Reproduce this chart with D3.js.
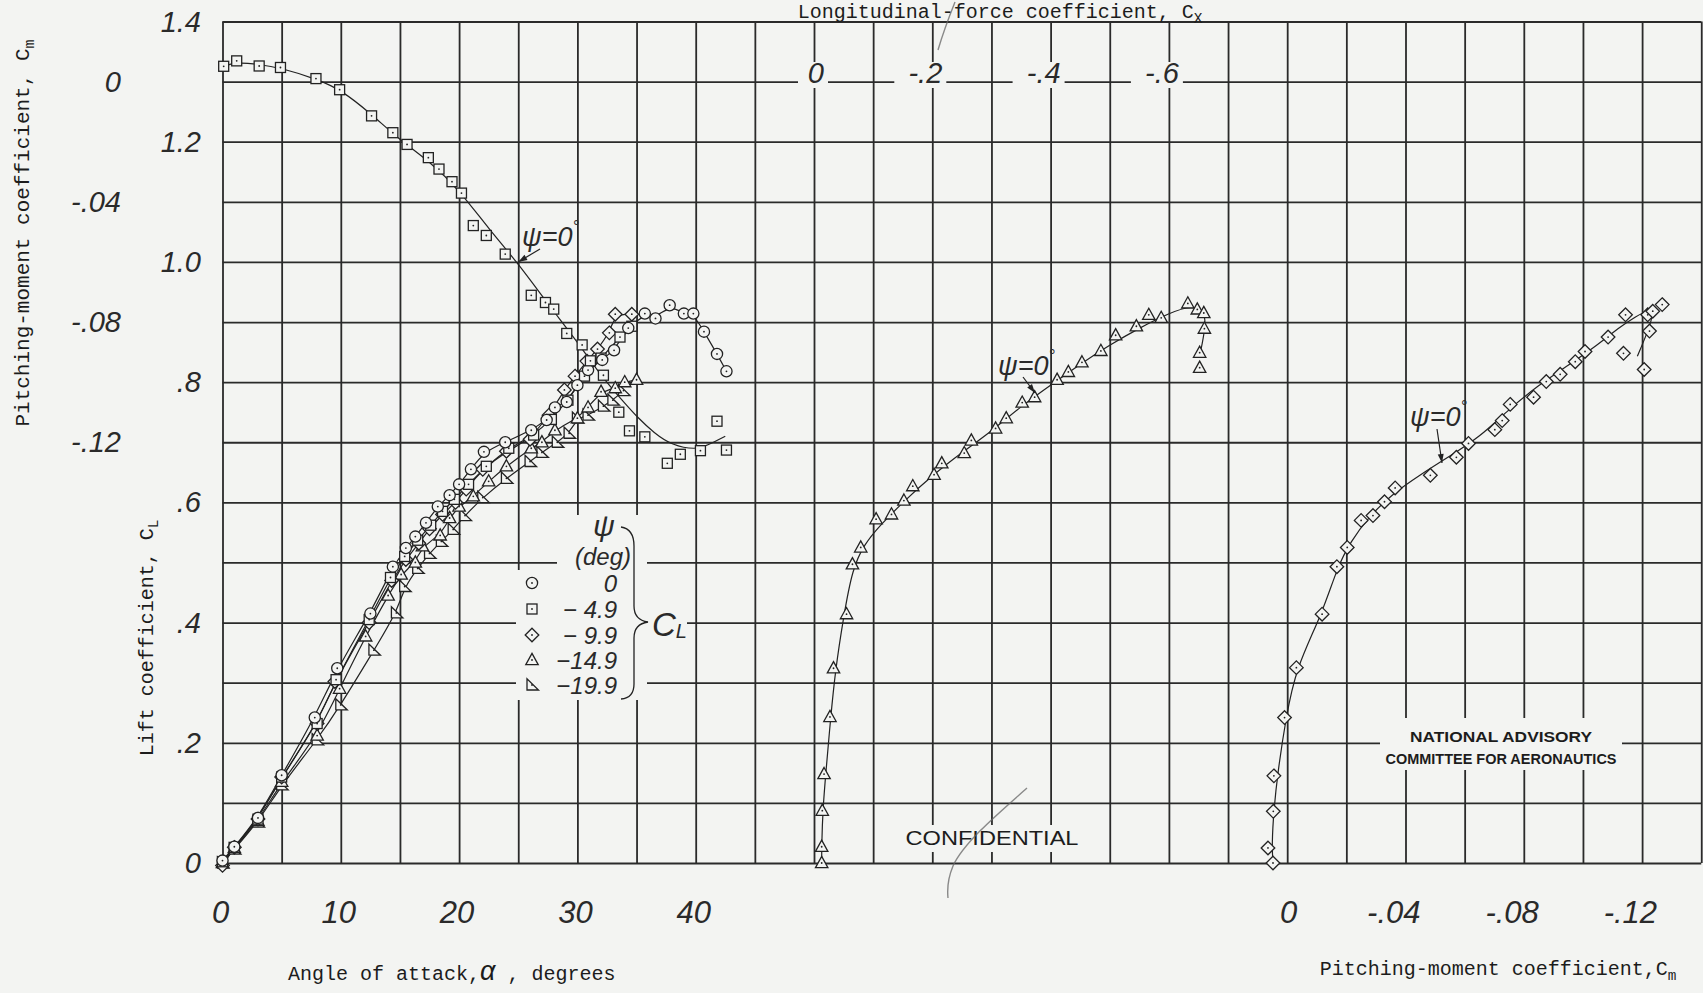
<!DOCTYPE html>
<html><head><meta charset="utf-8">
<script src="https://cdn.jsdelivr.net/npm/d3@7"></script>
<style>
html,body{margin:0;padding:0;background:#f3f4f2;}
svg{display:block;}
</style></head><body>
<svg id="chart" width="1703" height="993"></svg>
<script>
// ---------------- DATA ----------------
const alphaTicks = [0, 10, 20, 30, 40];
const alphaTickLabels = ['0', '10', '20', '30', '40'];
const clTicks = [0, 0.2, 0.4, 0.6, 0.8, 1.0, 1.2, 1.4];
const clTickLabels = ['0', '.2', '.4', '.6', '.8', '1.0', '1.2', '1.4'];
const cmLeftTicks = [0, -0.04, -0.08, -0.12];
const cmLeftTickLabels = ['0', '-.04', '-.08', '-.12'];
const cxTicks = [0, -0.2, -0.4, -0.6];
const cxTickLabels = ['0', '-.2', '-.4', '-.6'];
const cmTicks = [0, -0.04, -0.08, -0.12];
const cmTickLabels = ['0', '-.04', '-.08', '-.12'];

const psiLabels = ['0', '\u2212 4.9', '\u2212 9.9', '\u221214.9', '\u221219.9'];
const psiSymbols = ['circle', 'square', 'diamond', 'triangle', 'flag'];

// CL vs alpha, psi = 0 (circles)
const alphaPsi0 = [0, 1, 3, 5, 7.8, 9.7, 12.5, 14.4, 15.5, 16.3, 17.2, 18.2, 19.2, 20.0, 21.0, 22.1, 23.9, 26.1, 27.4, 28.1, 29.1, 30.0, 30.9, 32.1, 33.1, 34.3, 35.7, 36.6, 37.8, 39.0, 39.8, 40.7, 41.8, 42.6];
const clPsi0    = [0.004, 0.027, 0.075, 0.146, 0.242, 0.324, 0.415, 0.493, 0.524, 0.543, 0.566, 0.593, 0.612, 0.630, 0.655, 0.684, 0.700, 0.720, 0.737, 0.758, 0.767, 0.795, 0.820, 0.837, 0.853, 0.890, 0.914, 0.906, 0.928, 0.914, 0.914, 0.884, 0.847, 0.818];
// psi = -4.9 (squares)
const alphaPsi49 = [0, 1, 3, 5, 8, 9.6, 12.4, 14.2, 15.4, 16.5, 17.6, 18.6, 19.6, 20.8, 22.3, 24.2, 26.3, 27.8, 29.2, 30.6, 32.0, 33.6, 34.6];
const clPsi49    = [0.002, 0.026, 0.073, 0.143, 0.232, 0.305, 0.405, 0.475, 0.510, 0.537, 0.562, 0.585, 0.605, 0.630, 0.660, 0.690, 0.712, 0.738, 0.770, 0.810, 0.840, 0.875, 0.893];
// psi = -9.9 (diamonds)
const alphaPsi99 = [0, 1, 3, 5, 8, 9.5, 12.4, 14.3, 15.5, 16.6, 17.5, 18.6, 19.7, 20.6, 22.0, 24.0, 26.0, 27.6, 28.9, 29.8, 30.8, 31.7, 32.7, 33.2, 34.6];
const clPsi99    = [-0.004, 0.026, 0.073, 0.143, 0.232, 0.302, 0.400, 0.470, 0.505, 0.532, 0.556, 0.580, 0.600, 0.622, 0.655, 0.685, 0.705, 0.745, 0.787, 0.810, 0.835, 0.855, 0.882, 0.913, 0.913];
// psi = -14.9 (triangles)
const alphaPsi149 = [0, 1, 3, 5, 8, 9.9, 12.1, 14.0, 15.1, 16.3, 16.9, 18.4, 19.2, 20.0, 21.2, 22.5, 24.0, 26.1, 27.0, 28.1, 30.0, 30.9, 32.0, 33.2, 34.0, 35.0];
const clPsi149    = [0.0, 0.025, 0.070, 0.135, 0.212, 0.290, 0.377, 0.445, 0.480, 0.500, 0.527, 0.545, 0.574, 0.593, 0.610, 0.635, 0.660, 0.690, 0.700, 0.720, 0.740, 0.758, 0.784, 0.790, 0.800, 0.804];
// psi = -19.9 (flagged triangles)
const alphaPsi199 = [0, 1, 3, 5, 8, 10, 12.8, 14.7, 15.4, 16.5, 17.5, 18.5, 19.5, 20.5, 22.0, 24.0, 26.0, 27.0, 28.3, 29.3, 30.0, 30.9, 32.2, 33.0, 33.9];
const clPsi199    = [0.0, 0.023, 0.068, 0.130, 0.205, 0.263, 0.354, 0.416, 0.460, 0.490, 0.515, 0.535, 0.555, 0.578, 0.608, 0.640, 0.668, 0.683, 0.700, 0.715, 0.740, 0.745, 0.760, 0.770, 0.786];

// Cm vs alpha, psi = 0 (squares), measured points
const alphaCm = [0.1, 1.2, 3.1, 4.9, 7.9, 9.9, 12.6, 14.4, 15.6, 17.4, 18.3, 19.4, 20.2, 21.2, 22.3, 23.9, 26.1, 27.3, 28.0, 29.1, 30.4, 31.1, 32.2, 33.5, 34.4, 35.7, 37.6, 38.7, 40.4, 41.8, 42.6];
const cmAlpha = [0.0051, 0.0069, 0.0052, 0.0047, 0.0010, -0.0027, -0.0114, -0.0170, -0.0209, -0.0253, -0.0291, -0.0333, -0.0371, -0.0479, -0.0512, -0.0574, -0.0711, -0.0735, -0.0757, -0.0838, -0.0876, -0.0929, -0.0977, -0.1100, -0.1162, -0.1182, -0.1270, -0.1240, -0.1228, -0.1130, -0.1226];
// faired curve
const alphaCmFair = [0, 1.2, 3, 5, 8, 10, 12.5, 15, 17.5, 20, 22.5, 25, 27.5, 30, 32, 34, 35, 36.5, 38, 40, 41, 42.5];
const cmAlphaFair = [0.0050, 0.0065, 0.0058, 0.0045, 0.0008, -0.0027, -0.0105, -0.0195, -0.0265, -0.0360, -0.0490, -0.0605, -0.0740, -0.0865, -0.0980, -0.1070, -0.1114, -0.1170, -0.1210, -0.1225, -0.1210, -0.1180];

// CL vs Cx, psi = 0 (triangles)
const cxData  = [-0.013, -0.013, -0.014, -0.017, -0.027, -0.033, -0.055, -0.065, -0.079, -0.105, -0.131, -0.152, -0.167, -0.203, -0.216, -0.254, -0.266, -0.307, -0.325, -0.352, -0.373, -0.411, -0.430, -0.453, -0.485, -0.510, -0.545, -0.566, -0.587, -0.632, -0.648, -0.659, -0.660, -0.652, -0.652];
const clCx    = [0.0, 0.027, 0.087, 0.148, 0.243, 0.324, 0.414, 0.497, 0.525, 0.572, 0.580, 0.603, 0.627, 0.646, 0.665, 0.682, 0.703, 0.723, 0.740, 0.766, 0.775, 0.804, 0.817, 0.833, 0.852, 0.878, 0.893, 0.912, 0.907, 0.931, 0.921, 0.915, 0.889, 0.849, 0.824];
const cxFair  = [-0.013, -0.013, -0.015, -0.020, -0.028, -0.036, -0.050, -0.065, -0.085, -0.110, -0.150, -0.200, -0.250, -0.300, -0.350, -0.400, -0.450, -0.500, -0.550, -0.600, -0.640, -0.660, -0.662, -0.656, -0.652];
const clCxFair= [0.0, 0.030, 0.090, 0.150, 0.240, 0.320, 0.410, 0.490, 0.530, 0.560, 0.600, 0.645, 0.683, 0.718, 0.760, 0.795, 0.830, 0.862, 0.890, 0.915, 0.928, 0.918, 0.895, 0.862, 0.845];

// CL vs Cm, psi = 0 (diamonds)
const cmData = [0.0048, 0.0065, 0.0047, 0.0045, 0.0009, -0.0031, -0.0118, -0.0168, -0.0203, -0.0250, -0.0290, -0.0329, -0.0365, -0.0484, -0.0572, -0.0613, -0.0702, -0.0727, -0.0754, -0.0833, -0.0876, -0.0923, -0.0974, -0.1007, -0.1085, -0.1144, -0.1219, -0.1236, -0.1268, -0.1225, -0.1137, -0.1207];
const clCm   = [0.0, 0.025, 0.086, 0.145, 0.242, 0.325, 0.414, 0.493, 0.525, 0.570, 0.578, 0.601, 0.624, 0.645, 0.675, 0.698, 0.721, 0.736, 0.763, 0.775, 0.801, 0.813, 0.834, 0.851, 0.875, 0.912, 0.912, 0.918, 0.929, 0.885, 0.848, 0.821];
const cmFair = [0.0048, 0.0052, 0.0045, 0.0032, 0.0005, -0.0030, -0.0118, -0.0170, -0.0215, -0.0275, -0.0350, -0.0450, -0.0550, -0.0650, -0.0750, -0.0850, -0.0950, -0.1050, -0.1120, -0.1180, -0.1226, -0.1237, -0.1220, -0.1184];
const clCmFair=[0.0, 0.030, 0.090, 0.150, 0.240, 0.325, 0.414, 0.493, 0.535, 0.575, 0.612, 0.646, 0.677, 0.708, 0.755, 0.795, 0.828, 0.862, 0.890, 0.910, 0.921, 0.911, 0.885, 0.843];

// ---------------- LAYOUT ----------------
const W = 1703, H = 993;
const X0 = 222.5, DX = 59.15, NCOL = 25, YTOP = 21.5, YBOT = 863;
const bg = '#f3f4f2', ink = '#222', gridColor = '#2a2a2a';
const handFont = '"Liberation Sans", Arial, sans-serif';
const typeFont = '"Courier New", "Liberation Mono", monospace';

const colX = d3.scaleLinear().domain([0, NCOL]).range([X0, X0 + NCOL * DX]);
const yCL = d3.scaleLinear().domain([0, 1.4]).range([YBOT, YTOP]);
const xAlpha = d3.scaleLinear().domain([0, 5]).range([colX(0), colX(1)]);
const xCx = d3.scaleLinear().domain([0, -0.1]).range([colX(10), colX(11)]);
const xCm = d3.scaleLinear().domain([0, -0.02]).range([colX(18), colX(19)]);
const yCm = d3.scaleLinear().domain([0, -0.02]).range([yCL(1.3), yCL(1.2)]);

const svg = d3.select('#chart');
svg.append('rect').attr('width', W).attr('height', H).attr('fill', bg);

// ---------------- GRID (via axes) ----------------
const gV = svg.append('g').attr('transform', `translate(0,${YTOP})`)
  .call(d3.axisBottom(colX).tickValues(d3.range(0, NCOL + 1)).tickSize(YBOT - YTOP).tickFormat(''));
gV.select('.domain').remove();
gV.selectAll('line').attr('stroke', gridColor).attr('stroke-width', 1.8);

const gH = svg.append('g').attr('transform', `translate(${X0},0)`)
  .call(d3.axisRight(yCL).tickValues(d3.range(0, 15).map(i => i / 10)).tickSize(colX(NCOL) - X0).tickFormat(''));
gH.select('.domain').remove();
gH.selectAll('line').attr('stroke', gridColor).attr('stroke-width', 1.8);

// masks (blank areas behind lettering)
const maskG = svg.append('g');
function mask(x, y, w, h) { maskG.append('rect').attr('x', x).attr('y', y).attr('width', w).attr('height', h).attr('fill', bg); }
mask(516, 570, 131, 130);   // legend body
mask(557, 515, 90, 56);     // legend header
mask(647, 600, 40, 45);     // legend C_L
mask(899, 825, 187, 27);    // CONFIDENTIAL
mask(1380, 718, 242, 52);   // NACA
cxTicks.forEach(v => {
  const xe = xCx(v) + 10, w = v === 0 ? 22 : 44;
  mask(xe - w - 4, 62, w + 8, 26);
});

// ---------------- MARKERS ----------------
function drawMarker(g, type, x, y) {
  const m = g.append('g').attr('transform', `translate(${x},${y})`);
  const st = s => s.attr('fill', bg).attr('stroke', ink).attr('stroke-width', 1.3);
  if (type === 'circle') st(m.append('circle').attr('r', 5.6));
  else if (type === 'square') st(m.append('rect').attr('x', -5).attr('y', -5).attr('width', 10).attr('height', 10));
  else if (type === 'diamond') st(m.append('path').attr('d', 'M0,-6.8L6.8,0L0,6.8L-6.8,0Z'));
  else if (type === 'triangle') st(m.append('path').attr('d', 'M0,-6.6L6.2,4.6L-6.2,4.6Z'));
  else if (type === 'flag') st(m.append('path').attr('d', 'M-5,-6.2L-5,5L6.5,5Z'));
  m.append('circle').attr('r', 0.9).attr('fill', ink);
}

const curveLine = (xs, ys, fx, fy) => d3.line().curve(d3.curveBasis)(xs.map((v, i) => [fx(v), fy(ys[i])]));
const lineG = svg.append('g').attr('fill', 'none').attr('stroke', ink).attr('stroke-width', 1.2);
const markG = svg.append('g');

// CL vs alpha series
const clSeries = [
  { sym: 'circle', a: alphaPsi0, c: clPsi0 },
  { sym: 'square', a: alphaPsi49, c: clPsi49 },
  { sym: 'diamond', a: alphaPsi99, c: clPsi99 },
  { sym: 'triangle', a: alphaPsi149, c: clPsi149 },
  { sym: 'flag', a: alphaPsi199, c: clPsi199 }
];
clSeries.forEach(s => lineG.append('path').attr('d', curveLine(s.a, s.c, xAlpha, yCL)));
lineG.append('path').attr('d', curveLine(alphaCmFair, cmAlphaFair, xAlpha, yCm));
lineG.append('path').attr('d', curveLine(cxFair, clCxFair, xCx, yCL));
lineG.append('path').attr('d', curveLine(cmFair, clCmFair, xCm, yCL));

clSeries.slice().reverse().forEach(s => s.a.forEach((v, i) => drawMarker(markG, s.sym, xAlpha(v), yCL(s.c[i]))));
alphaCm.forEach((v, i) => drawMarker(markG, 'square', xAlpha(v), yCm(cmAlpha[i])));
cxData.forEach((v, i) => drawMarker(markG, 'triangle', xCx(v), yCL(clCx[i])));
cmData.forEach((v, i) => drawMarker(markG, 'diamond', xCm(v), yCL(clCm[i])));

// ---------------- TICK LABELS ----------------
const txt = svg.append('g').attr('fill', ink);
function hand(x, y, s, size, anchor) {
  return txt.append('text').attr('x', x).attr('y', y).attr('font-family', handFont).attr('font-style', 'italic')
    .attr('font-size', size).attr('text-anchor', anchor || 'middle').attr('fill', '#2a2a2a').text(s);
}
clTicks.forEach((v, i) => hand(201, yCL(v) + 10, clTickLabels[i], 29, 'end'));
cmLeftTicks.forEach((v, i) => hand(121, yCm(v) + 10, cmLeftTickLabels[i], 29, 'end'));
alphaTicks.forEach((v, i) => hand(xAlpha(v) - 2, 923, alphaTickLabels[i], 31));
cmTicks.forEach((v, i) => hand(xCm(v) + (v === 0 ? 10 : 15), 923, cmTickLabels[i], 31, 'end'));
cxTicks.forEach((v, i) => hand(xCx(v) + 10, 83, cxTickLabels[i], 29, 'end'));

// ---------------- AXIS TITLES ----------------
function typed(x, y, rot, main, sub, size) {
  const t = txt.append('text').attr('transform', `translate(${x},${y}) rotate(${rot})`)
    .attr('font-family', typeFont).attr('font-size', size || 20).attr('text-anchor', 'middle').attr('fill', '#1c1c1c');
  t.append('tspan').text(main);
  t.append('tspan').attr('font-size', (size || 20) * 0.72).attr('dy', 5).text(sub);
  return t;
}
typed(29, 233, -90, 'Pitching-moment coefficient, C', 'm', 21);
typed(153, 638, -90, 'Lift coefficient, C', 'L', 20);
typed(1000, 18, 0, 'Longitudinal-force coefficient, C', 'X', 20);
typed(1498, 975, 0, 'Pitching-moment coefficient,C', 'm', 20);
{
  const t = txt.append('text').attr('x', 288).attr('y', 980).attr('font-family', typeFont).attr('font-size', 20).attr('fill', '#1c1c1c');
  t.append('tspan').text('Angle of attack,');
  t.append('tspan').attr('font-family', handFont).attr('font-style', 'italic').attr('font-size', 27).text('\u03B1');
  t.append('tspan').text(' , degrees');
}

// ---------------- LEGEND ----------------
hand(604, 536, '\u03C8', 30);
hand(603, 565, '(deg)', 24);
const legY = [583, 609, 635, 660, 685];
psiSymbols.forEach((s, i) => {
  drawMarker(txt, s, 532, legY[i]);
  hand(617, legY[i] + 9, psiLabels[i], 24, 'end');
});
txt.append('path').attr('d', 'M621,527 Q634,529 634,546 L634,606 Q634,620 648,622 Q634,624 634,638 L634,684 Q634,698 621,699')
  .attr('fill', 'none').attr('stroke', ink).attr('stroke-width', 1.3);
{
  const t = hand(652, 636, 'C', 33, 'start');
  t.append('tspan').attr('font-size', 20).attr('dy', 2).text('L');
}

// ---------------- ANNOTATIONS ----------------
function psiNote(x, y) {
  const t = hand(x, y, '\u03C8=0', 27, 'start');
  t.append('tspan').attr('font-size', 16).attr('dy', -14).text('\u00B0');
}
function arrow(x1, y1, x2, y2) {
  txt.append('line').attr('x1', x1).attr('y1', y1).attr('x2', x2).attr('y2', y2).attr('stroke', ink).attr('stroke-width', 1.2);
  const a = Math.atan2(y2 - y1, x2 - x1), L = 9, w = 3;
  const bx = x2 - L * Math.cos(a), by = y2 - L * Math.sin(a);
  txt.append('path').attr('d', `M${x2},${y2}L${bx - w * Math.sin(a)},${by + w * Math.cos(a)}L${bx + w * Math.sin(a)},${by - w * Math.cos(a)}Z`).attr('fill', ink);
}
psiNote(522, 246);
arrow(540, 249, xAlpha(25), yCm(-0.06));
psiNote(998, 375);
arrow(1023, 377, 1035, 393);
psiNote(1410, 426);
arrow(1437, 429, 1442, 463);

// ---------------- STAMPS ----------------
txt.append('text').attr('x', 992).attr('y', 845).attr('text-anchor', 'middle').attr('font-family', handFont)
  .attr('font-size', 20).attr('textLength', 173).attr('lengthAdjust', 'spacingAndGlyphs').attr('fill', '#1c1c1c').text('CONFIDENTIAL');
txt.append('text').attr('x', 1501).attr('y', 742).attr('text-anchor', 'middle').attr('font-family', handFont).attr('font-weight', 'bold')
  .attr('font-size', 15).attr('textLength', 182).attr('lengthAdjust', 'spacingAndGlyphs').attr('fill', '#1c1c1c').text('NATIONAL ADVISORY');
txt.append('text').attr('x', 1501).attr('y', 764).attr('text-anchor', 'middle').attr('font-family', handFont).attr('font-weight', 'bold')
  .attr('font-size', 15).attr('textLength', 231).attr('lengthAdjust', 'spacingAndGlyphs').attr('fill', '#1c1c1c').text('COMMITTEE FOR AERONAUTICS');

// stray pen marks on the scan
svg.append('path').attr('d', 'M1027,788 C1000,812 964,842 953,866 C948,878 947,888 948,898')
  .attr('fill', 'none').attr('stroke', '#666').attr('stroke-width', 1.4).attr('opacity', 0.75);
svg.append('path').attr('d', 'M955,2 C949,17 943,33 938,50')
  .attr('fill', 'none').attr('stroke', '#666').attr('stroke-width', 1.4).attr('opacity', 0.75);
</script>
</body></html>
